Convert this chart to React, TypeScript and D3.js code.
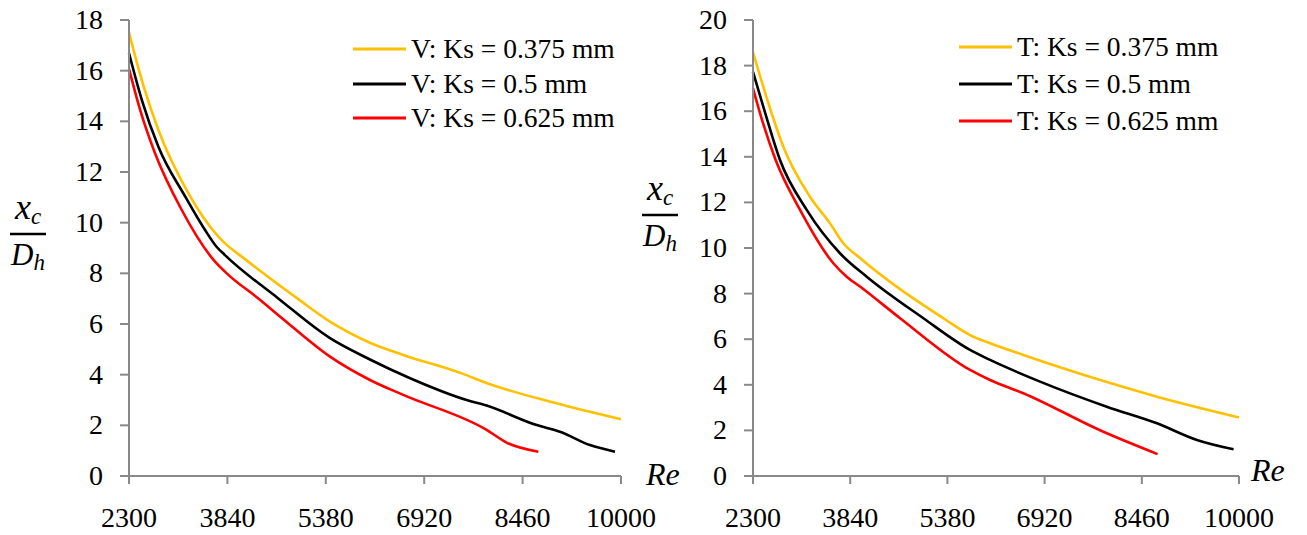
import React from "react";
import * as d3 from "d3";

// Reynolds-number tick values shared by both panels
const reTicks = [2300, 3840, 5380, 6920, 8460, 10000];
const leftYTicks = [0, 2, 4, 6, 8, 10, 12, 14, 16, 18];
const rightYTicks = [0, 2, 4, 6, 8, 10, 12, 14, 16, 18, 20];

// V panel — Ks = 0.375 mm
const vRe375 = [2300, 2524, 2760, 3230, 3700, 3800, 4105, 4950, 5446, 6070, 6590, 7530, 7840, 8990, 10000];
const vXc375 = [17.5, 15.42, 13.66, 11.16, 9.45, 9.19, 8.58, 6.98, 6.09, 5.26, 4.78, 4.03, 3.72, 2.87, 2.24];
// V panel — Ks = 0.5 mm
const vRe500 = [2300, 2500, 2760, 3180, 3490, 3670, 3802, 4636, 5446, 6071, 6700, 7584, 7897, 8680, 9045, 9514, 9906];
const vXc500 = [16.69, 14.85, 13.0, 11.03, 9.71, 9.05, 8.72, 7.01, 5.44, 4.6, 3.86, 3.0, 2.78, 2.01, 1.75, 1.22, 0.96];
// V panel — Ks = 0.625 mm
const vRe625 = [2300, 2480, 2707, 3125, 3650, 3855, 4324, 4718, 5446, 6071, 6592, 7897, 8210, 8706];
const vXc625 = [16.07, 14.4, 12.74, 10.5, 8.45, 7.94, 7.01, 6.18, 4.71, 3.79, 3.2, 1.82, 1.32, 0.96];

// T panel — Ks = 0.375 mm
const tRe375 = [2300, 2596, 2780, 3203, 3520, 3731, 4000, 5316, 5739, 6056, 6583, 7803, 8700, 10000];
const tXc375 = [18.58, 15.9, 14.44, 12.25, 11.08, 10.21, 9.55, 6.92, 6.18, 5.82, 5.31, 4.21, 3.48, 2.57];
// T panel — Ks = 0.5 mm
const tRe500 = [2300, 2490, 2728, 3151, 3678, 4102, 4999, 5739, 6056, 6848, 7905, 8700, 9333, 9914];
const tXc500 = [17.73, 15.95, 13.86, 11.67, 9.77, 8.74, 6.92, 5.53, 5.09, 4.14, 3.04, 2.31, 1.58, 1.17];
// T panel — Ks = 0.625 mm
const tRe625 = [2300, 2450, 2660, 3045, 3573, 3784, 4000, 4630, 5739, 6056, 6583, 7851, 8710];
const tXc625 = [17.0, 15.55, 13.85, 11.67, 9.33, 8.74, 8.3, 6.92, 4.65, 4.21, 3.63, 1.94, 0.96];

const seriesColors = ["#FFC000", "#000000", "#FF0000"];
const vLabels = ["V: Ks = 0.375 mm", "V: Ks = 0.5 mm", "V: Ks = 0.625 mm"];
const tLabels = ["T: Ks = 0.375 mm", "T: Ks = 0.5 mm", "T: Ks = 0.625 mm"];

const AXIS = "#898989";
const FONT = "'Liberation Serif', 'Times New Roman', serif";

type Series = { re: number[]; xc: number[] };

type PanelProps = {
  x0: number;
  x1: number;
  yMax: number;
  yTicks: number[];
  series: Series[];
  labels: string[];
  legendX: number;
  legendYs: number[];
  fracX: number;
  fracBarY: number;
  reX: number;
  reY: number;
};

function Panel(p: PanelProps) {
  const top = 20;
  const bottom = 476;
  const x = d3.scaleLinear().domain([2300, 10000]).range([p.x0, p.x1]);
  const y = d3.scaleLinear().domain([0, p.yMax]).range([bottom, top]);
  const line = d3
    .line<[number, number]>()
    .x((d) => x(d[0]))
    .y((d) => y(d[1]))
    .curve(d3.curveMonotoneX);

  const fracW = 36;
  const fracCx = p.fracX + fracW / 2;

  return (
    <g>
      {/* curves */}
      {p.series.map((s, i) => (
        <path
          key={i}
          d={line(s.re.map((r, k) => [r, s.xc[k]] as [number, number])) || ""}
          fill="none"
          stroke={seriesColors[i]}
          strokeWidth={2.6}
          strokeLinejoin="round"
        />
      ))}

      {/* y axis */}
      <line x1={p.x0} x2={p.x0} y1={top} y2={bottom} stroke={AXIS} strokeWidth={2} />
      {p.yTicks.map((t) => (
        <g key={t}>
          <line x1={p.x0 - 9} x2={p.x0} y1={y(t)} y2={y(t)} stroke={AXIS} strokeWidth={2} />
          <text
            x={p.x0 - 26}
            y={y(t) + 9}
            textAnchor="end"
            fontFamily={FONT}
            fontSize={28}
            fill="#000"
          >
            {t}
          </text>
        </g>
      ))}

      {/* x axis */}
      <line x1={p.x0} x2={p.x1} y1={bottom} y2={bottom} stroke={AXIS} strokeWidth={2} />
      {reTicks.map((t) => (
        <g key={t}>
          <line x1={x(t)} x2={x(t)} y1={bottom} y2={bottom + 8} stroke={AXIS} strokeWidth={2} />
          <text
            x={x(t)}
            y={527}
            textAnchor="middle"
            fontFamily={FONT}
            fontSize={28}
            fill="#000"
          >
            {t}
          </text>
        </g>
      ))}

      {/* legend */}
      {p.labels.map((lab, i) => (
        <g key={lab}>
          <line
            x1={p.legendX}
            x2={p.legendX + 53}
            y1={p.legendYs[i]}
            y2={p.legendYs[i]}
            stroke={seriesColors[i]}
            strokeWidth={3}
          />
          <text
            x={p.legendX + 58}
            y={p.legendYs[i] + 9}
            fontFamily={FONT}
            fontSize={27.5}
            fill="#000"
          >
            {lab}
          </text>
        </g>
      ))}

      {/* y label: x_c / D_h */}
      <text x={fracCx} y={p.fracBarY - 15} textAnchor="middle" fontFamily={FONT} fontStyle="italic" fontSize={36} fill="#000">
        x<tspan fontSize={23} dy={5}>c</tspan>
      </text>
      <line x1={p.fracX} x2={p.fracX + fracW} y1={p.fracBarY} y2={p.fracBarY} stroke="#000" strokeWidth={2.6} />
      <text x={fracCx} y={p.fracBarY + 31} textAnchor="middle" fontFamily={FONT} fontStyle="italic" fontSize={31} fill="#000">
        D<tspan fontSize={23} dy={5}>h</tspan>
      </text>

      {/* x label */}
      <text x={p.reX} y={p.reY} fontFamily={FONT} fontStyle="italic" fontSize={32} fill="#000">
        Re
      </text>
    </g>
  );
}

export default function App() {
  return (
    <svg
      width={1307}
      height={535}
      viewBox="0 0 1307 535"
      style={{ position: "fixed", left: 0, top: 0, background: "#fff" }}
    >
      <rect width={1307} height={535} fill="#fff" />
      <Panel
        x0={129}
        x1={621}
        yMax={18}
        yTicks={leftYTicks}
        series={[
          { re: vRe375, xc: vXc375 },
          { re: vRe500, xc: vXc500 },
          { re: vRe625, xc: vXc625 },
        ]}
        labels={vLabels}
        legendX={353}
        legendYs={[49, 84, 118]}
        fracX={10}
        fracBarY={234}
        reX={646}
        reY={485}
      />
      <Panel
        x0={753}
        x1={1239}
        yMax={20}
        yTicks={rightYTicks}
        series={[
          { re: tRe375, xc: tXc375 },
          { re: tRe500, xc: tXc500 },
          { re: tRe625, xc: tXc625 },
        ]}
        labels={tLabels}
        legendX={959}
        legendYs={[47, 84, 121]}
        fracX={642}
        fracBarY={215}
        reX={1251}
        reY={481}
      />
    </svg>
  );
}
